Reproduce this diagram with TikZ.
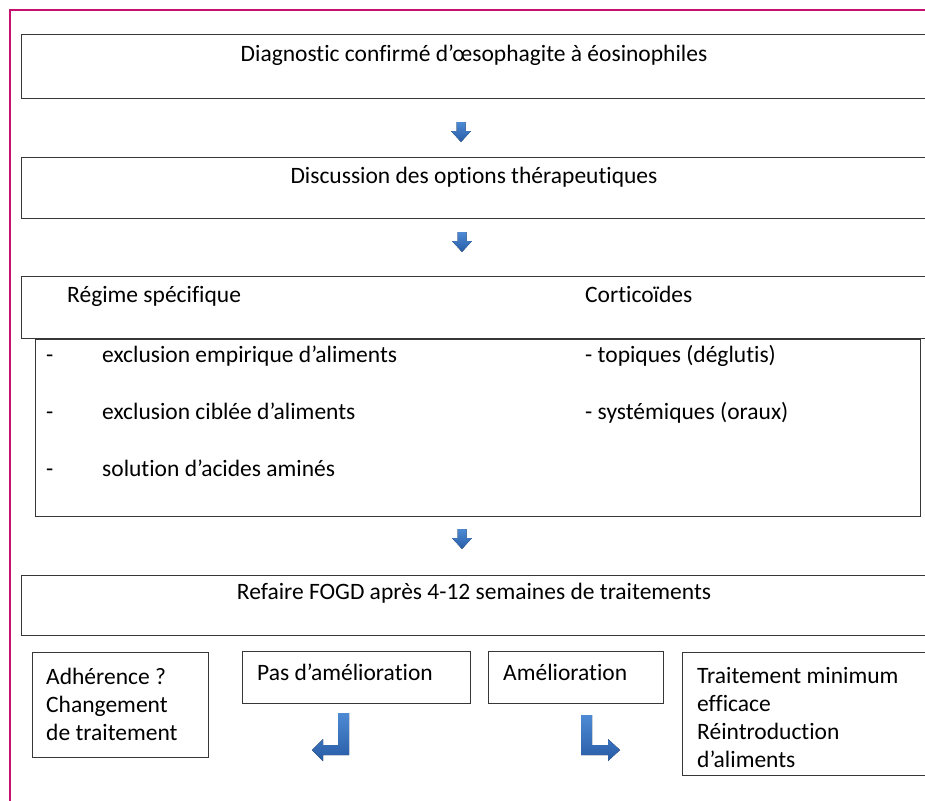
\documentclass[tikz,border=0pt]{standalone}
\usepackage{fontspec}
\setmainfont{Carlito}[Ligatures=NoCommon]
\usetikzlibrary{calc}
\usetikzlibrary{positioning}
\definecolor{framemagenta}{RGB}{200,16,110}
\definecolor{boxline}{RGB}{55,55,55}
\definecolor{arrowtop}{RGB}{78,138,212}
\definecolor{arrowbottom}{RGB}{40,92,165}
\newcommand*\blocdown[2]{%
    % block arrow pointing down, #1 = centre x, #2 = top y
    \fill[block arrow] (#1-4.5,#2) -- ++(9,0) -- ++(0,9) -- ++(5.5,0)
        -- (#1,#2+20) -- (#1-10,#2+9) -- ++(5.5,0) -- cycle;%
}

\begin{document}
\begin{tikzpicture}
    [%
        x=1pt,y=-1pt,%
        box/.style={%
            draw=boxline,%
            line width=1pt,%
            rectangle,%
            anchor=north west,%
            inner sep=0pt%
        },%
        txt/.style={%
            anchor=base west,%
            inner sep=0pt,%
            font=\fontsize{23.5}{28}\selectfont%
        },%
        ctxt/.style={%
            txt,%
            anchor=base%
        },%
        multi/.style={%
            txt,%
            align=left%
        },%
        block arrow/.style={%
            top color=arrowtop,%
            bottom color=arrowbottom,%
            draw=none%
        }%
    ]%
    \useasboundingbox (0,0) rectangle (925,800);
    \draw[framemagenta,line width=2pt] (10,10) rectangle (945,820);
%
    % main steps
    \node[box,minimum width=906,minimum height=64] (diag) at (21,34) {};
    \node[ctxt] (diag-text) at (474,62) {Diagnostic confirmé d’œsophagite à éosinophiles};
    \blocdown{461}{122}
    \node[box,minimum width=906,minimum height=61] (options) at (21,157) {};
    \node[ctxt] (options-text) at (474,183) {Discussion des options thérapeutiques};
    \blocdown{462}{232}
%
    \node[box,minimum width=906,minimum height=62] (choice) at (21,276) {};
    \node[txt] (diet) at (67,302) {Régime spécifique};
    \node[txt] (cortico) at (585,302) {Corticoïdes};
    \node[box,minimum width=885,minimum height=177] (detail) at (35,339) {};
    \foreach \k/\t/\y in {%
        1/{exclusion empirique d’aliments}/362,%
        2/{exclusion ciblée d’aliments}/419,%
        3/{solution d’acides aminés}/476%
    }{%
        \node[txt] (dash-\k) at (46,\y) {-};
        \node[txt] (diet-\k) at (102,\y) {\t};
    }
    \node[txt] (cortico-1) at (585,362) {- topiques (déglutis)};
    \node[txt] (cortico-2) at (585,419) {- systémiques (oraux)};
    \blocdown{462}{529}
%
    \node[box,minimum width=906,minimum height=60] (fogd) at (21,575) {};
    \node[ctxt] (fogd-text) at (474,599) {Refaire FOGD après 4-12 semaines de traitements};
%
    % outcomes
    \node[box,minimum width=176,minimum height=105] (adherence) at (32,652) {};
    \node[multi] (adherence-text) at (46,740) {Adhérence ?\\Changement\\de traitement};
    \node[box,minimum width=228,minimum height=52] (nochange) at (242,651) {};
    \node[txt] (nochange-text) at (257,680) {Pas d’amélioration};
    \node[box,minimum width=175,minimum height=52] (better) at (488,651) {};
    \node[txt] (better-text) at (503,680) {Amélioration};
    \node[box,minimum width=260,minimum height=123] (minimum) at (682,652) {};
    \node[multi] (minimum-text) at (697,767) {Traitement minimum\\efficace\\Réintroduction\\d’aliments};
%
    \fill[block arrow] (338,713) -- (349,713) -- (349,755) -- (323,755) -- (323,761)
        -- (312,750) -- (323,739) -- (323,745) -- (338,745) -- cycle;
    \fill[block arrow] (581,715) -- (592,715) -- (592,745) -- (608,745) -- (608,739)
        -- (620,750) -- (608,761) -- (608,755) -- (581,755) -- cycle;
\end{tikzpicture}
\end{document}
